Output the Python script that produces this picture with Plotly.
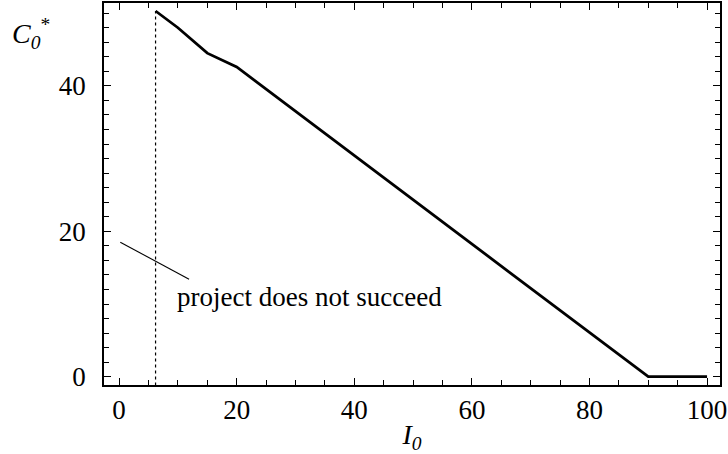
import plotly.graph_objects as go

# data
I0 = [6.2, 10, 15, 20, 90, 100]
C0 = [50.3, 48.0, 44.5, 42.6, 0, 0]
threshold_x = [6.2, 6.2]
threshold_y = [-1.2, 50.3]
pointer_x = [0.2, 11.9]
pointer_y = [18.5, 13.4]
xticks = [0, 20, 40, 60, 80, 100]
yticks = [0, 20, 40]

FONT = "Liberation Serif"

fig = go.Figure()
fig.add_trace(go.Scatter(x=threshold_x, y=threshold_y, mode="lines",
                         line=dict(color="black", width=1.2, dash="dot"), hoverinfo="skip"))
fig.add_trace(go.Scatter(x=I0, y=C0, mode="lines",
                         line=dict(color="black", width=2.8), hoverinfo="skip"))
fig.add_trace(go.Scatter(x=pointer_x, y=pointer_y, mode="lines",
                         line=dict(color="black", width=1.1), hoverinfo="skip"))

fig.add_annotation(x=9.5, y=10.9, xref="x", yref="y", text="project does not succeed",
                   showarrow=False, xanchor="left", yanchor="middle",
                   font=dict(family=FONT, size=27, color="black"))
fig.add_annotation(x=-0.152, y=0.92, xref="paper", yref="paper",
                   text="<i>C</i><sub><i>0</i></sub><sup>*</sup>",
                   showarrow=False, xanchor="left", yanchor="middle",
                   font=dict(family=FONT, size=28, color="black"))

axis_common = dict(showgrid=False, zeroline=False, showline=True, linecolor="black",
                   linewidth=1.6, mirror="ticks", ticks="inside", ticklen=7,
                   tickwidth=1.3, tickcolor="black", ticklabeloverflow="allow",
                   tickfont=dict(family=FONT, size=27, color="black"))

fig.update_layout(
    width=728, height=454,
    margin=dict(l=104, r=1, t=2, b=69),
    paper_bgcolor="white", plot_bgcolor="white",
    showlegend=False,
    xaxis=dict(range=[-2.57, 102.2], tickvals=xticks, ticktext=[str(v) for v in xticks],
               minor=dict(dtick=5, tick0=0, ticks="inside", ticklen=5, tickwidth=1.1, tickcolor="black"),
               title=dict(text="<i>I</i><sub><i>0</i></sub>", font=dict(family=FONT, size=28, color="black"), standoff=6),
               ticklabelstandoff=0,
               **axis_common),
    yaxis=dict(range=[-1.14, 51.4], tickvals=yticks, ticktext=[str(v) for v in yticks],
               minor=dict(dtick=2, tick0=0, ticks="inside", ticklen=5, tickwidth=1.1, tickcolor="black"),
               ticklabelstandoff=11,
               **axis_common),
)

fig.write_html("out.html", config={"displayModeBar": False},
               post_script="document.body.style.margin='0';document.body.style.overflow='hidden';")
